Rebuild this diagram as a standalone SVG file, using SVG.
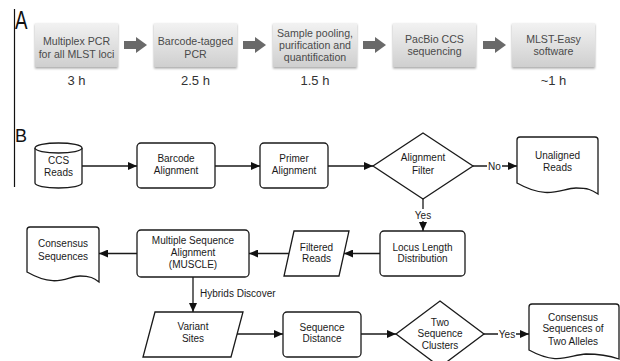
<svg xmlns="http://www.w3.org/2000/svg" width="620" height="361" viewBox="0 0 620 361">
<defs>
  <linearGradient id="gbox" x1="0" y1="0" x2="0" y2="1">
    <stop offset="0" stop-color="#f2f2f2"/>
    <stop offset="1" stop-color="#cfcfcf"/>
  </linearGradient>
  <filter id="sh" x="-10%" y="-10%" width="120%" height="130%">
    <feDropShadow dx="0" dy="1.5" stdDeviation="1" flood-color="#000" flood-opacity="0.35"/>
  </filter>
  <marker id="ah" markerUnits="userSpaceOnUse" markerWidth="9" markerHeight="8" refX="9" refY="4" orient="auto">
    <path d="M0,0 L9,4 L0,8 z" fill="#111"/>
  </marker>
  <style>
    .lbl{font-family:"Liberation Sans",Arial,sans-serif;fill:#111}
    .abox{fill:url(#gbox);filter:url(#sh)}
    .atx{font-family:"Liberation Sans",Arial,sans-serif;font-size:10.6px;fill:#4a4a4a;text-anchor:middle}
    .atime{font-family:"Liberation Sans",Arial,sans-serif;font-size:13px;fill:#333;text-anchor:middle}
    .aarr{fill:#6a6a6a}
    .n{fill:#fff;stroke:#1a1a1a;stroke-width:1.3}
    .t{font-family:"Liberation Sans",Arial,sans-serif;font-size:10px;fill:#1a1a1a;text-anchor:middle}
    .c{fill:none;stroke:#1a1a1a;stroke-width:1.3;marker-end:url(#ah)}
    .cl{font-family:"Liberation Sans",Arial,sans-serif;font-size:10px;fill:#1a1a1a}
  </style>
</defs>
<rect width="620" height="361" fill="#fff"/>

<!-- panel labels -->
<line x1="14.5" y1="9" x2="14.5" y2="187" stroke="#111" stroke-width="1.2"/>
<text class="lbl" x="15" y="29" font-size="26" textLength="12.5" lengthAdjust="spacingAndGlyphs">A</text>
<text class="lbl" x="15" y="142" font-size="19" textLength="12" lengthAdjust="spacingAndGlyphs">B</text>

<!-- Panel A -->
<g id="a1">
  <rect class="abox" x="35" y="23" width="83" height="44"/>
  <text class="atx" x="76.5" y="45">Multiplex PCR</text>
  <text class="atx" x="76.5" y="58">for all MLST loci</text>
  <text class="atime" x="76.5" y="85">3 h</text>
</g>
<g id="a2">
  <rect class="abox" x="154" y="23" width="83" height="44"/>
  <text class="atx" x="195.5" y="45">Barcode-tagged</text>
  <text class="atx" x="195.5" y="58">PCR</text>
  <text class="atime" x="195.5" y="85">2.5 h</text>
</g>
<g id="a3">
  <rect class="abox" x="273" y="23" width="84" height="44"/>
  <text class="atx" x="315" y="37">Sample pooling,</text>
  <text class="atx" x="315" y="49">purification and</text>
  <text class="atx" x="315" y="61">quantification</text>
  <text class="atime" x="315" y="85">1.5 h</text>
</g>
<g id="a4">
  <rect class="abox" x="393" y="23" width="83" height="44"/>
  <text class="atx" x="434.5" y="43">PacBio CCS</text>
  <text class="atx" x="434.5" y="55">sequencing</text>
</g>
<g id="a5">
  <rect class="abox" x="512" y="23" width="83" height="44"/>
  <text class="atx" x="553.5" y="43">MLST-Easy</text>
  <text class="atx" x="553.5" y="55">software</text>
  <text class="atime" x="553.5" y="85">~1 h</text>
</g>
<g id="a-arrows">
  <polygon class="aarr" points="124,41 136,41 136,37 147,45 136,53 136,49 124,49"/>
  <polygon class="aarr" points="243,41 255,41 255,37 266,45 255,53 255,49 243,49"/>
  <polygon class="aarr" points="363,41 375,41 375,37 386,45 375,53 375,49 363,49"/>
  <polygon class="aarr" points="483,41 495,41 495,37 506,45 495,53 495,49 483,49"/>
</g>

<!-- Panel B nodes -->
<g id="ccs">
  <path class="n" d="M35,148 V183 A23.5,5 0 0 0 82,183 V148"/>
  <ellipse class="n" cx="58.5" cy="148" rx="23.5" ry="5"/>
  <text class="t" x="58.5" y="163.5">CCS</text>
  <text class="t" x="58.5" y="175.5">Reads</text>
</g>
<g id="barcode">
  <rect class="n" x="137" y="143" width="78" height="45" rx="4"/>
  <text class="t" x="176" y="161.5">Barcode</text>
  <text class="t" x="176" y="174">Alignment</text>
</g>
<g id="primer">
  <rect class="n" x="260" y="143" width="68" height="45" rx="4"/>
  <text class="t" x="294" y="161.5">Primer</text>
  <text class="t" x="294" y="174">Alignment</text>
</g>
<g id="filter">
  <polygon class="n" points="423,133 473,166 423,199 373,166"/>
  <text class="t" x="423" y="161">Alignment</text>
  <text class="t" x="423" y="173.5">Filter</text>
</g>
<g id="unaligned">
  <path class="n" d="M517,140 Q517,137 520,137 H595 Q598,137 598,140 V194 C592,190 588,188 576,188 C561,188 549,201 517,183 Z"/>
  <text class="t" x="557.5" y="158.5">Unaligned</text>
  <text class="t" x="557.5" y="170.5">Reads</text>
</g>
<g id="locus">
  <rect class="n" x="380" y="231" width="85" height="45" rx="4"/>
  <text class="t" x="422.5" y="250.5">Locus Length</text>
  <text class="t" x="422.5" y="261.5">Distribution</text>
</g>
<g id="filtered">
  <polygon class="n" points="294,231 349,231 339,276 284,276"/>
  <text class="t" x="316.5" y="250.5">Filtered</text>
  <text class="t" x="316.5" y="261.5">Reads</text>
</g>
<g id="msa">
  <rect class="n" x="137" y="230" width="112" height="47" rx="4"/>
  <text class="t" x="193" y="243.5">Multiple Sequence</text>
  <text class="t" x="193" y="255.5">Alignment</text>
  <text class="t" x="193" y="267.5">(MUSCLE)</text>
</g>
<g id="consensus">
  <path class="n" d="M27,230 Q27,227 30,227 H96 Q99,227 99,230 V282 C94,278 90,276 80,276 C67,276 57,289 27,272 Z"/>
  <text class="t" x="63" y="246.5">Consensus</text>
  <text class="t" x="63" y="259.5">Sequences</text>
</g>
<g id="variant">
  <polygon class="n" points="155,312 243,312 231,357 143,357"/>
  <text class="t" x="193" y="329.5">Variant</text>
  <text class="t" x="193" y="341.5">Sites</text>
</g>
<g id="distance">
  <rect class="n" x="283" y="312" width="78" height="45" rx="4"/>
  <text class="t" x="322" y="330.5">Sequence</text>
  <text class="t" x="322" y="341.5">Distance</text>
</g>
<g id="clusters">
  <polygon class="n" points="440,301 484,334 440,367 396,334"/>
  <text class="t" x="440" y="325.5">Two</text>
  <text class="t" x="440" y="336.5">Sequence</text>
  <text class="t" x="440" y="348.5">Clusters</text>
</g>
<g id="alleles">
  <path class="n" d="M529,307 Q529,304 532,304 H616 Q619,304 619,307 V359 C610,356 600,354 586,354 C569,355 558,366 529,350 Z"/>
  <text class="t" x="573" y="320.5">Consensus</text>
  <text class="t" x="573" y="331.5">Sequences of</text>
  <text class="t" x="573" y="344.5">Two Alleles</text>
</g>

<!-- connectors -->
<g id="connectors">
  <path class="c" d="M82,166 H137"/>
  <path class="c" d="M215,166 H260"/>
  <path class="c" d="M328,166 H373"/>
  <path class="c" d="M473,166 H517"/>
  <path class="c" d="M423,199 V231"/>
  <path class="c" d="M380,253.5 H344"/>
  <path class="c" d="M289,253.5 H249"/>
  <path class="c" d="M137,253.5 H99"/>
  <path class="c" d="M193,277 V312"/>
  <path class="c" d="M237,334 H283"/>
  <path class="c" d="M361,334 H396"/>
  <path class="c" d="M484,334 H529"/>
  <rect x="487" y="160" width="15" height="12" fill="#fff"/>
  <text class="cl" x="494.5" y="169.5" text-anchor="middle">No</text>
  <rect x="414" y="209" width="18" height="12" fill="#fff"/>
  <text class="cl" x="423" y="218.5" text-anchor="middle">Yes</text>
  <text class="cl" x="200" y="296.5">Hybrids Discover</text>
  <rect x="498" y="328" width="18" height="12" fill="#fff"/>
  <text class="cl" x="507" y="337.5" text-anchor="middle">Yes</text>
</g>
</svg>
